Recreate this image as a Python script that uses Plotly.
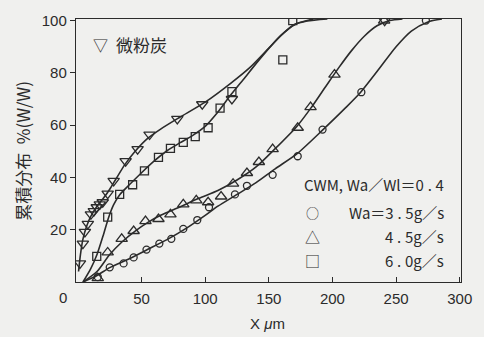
import plotly.graph_objects as go

# ---- data ----
# 微粉炭 (inverted triangles)
coal_x = [1.6, 3.9, 5.5, 7.8, 10.2, 12.5, 14.8, 17.2, 19.5, 23.4, 28.1, 37.5, 46.9, 56.3, 78.1, 97.7, 121, 241]
coal_y = [7.1, 14.7, 19.2, 22.2, 25.9, 27.1, 28.6, 29.7, 30.5, 33.8, 38.7, 46.2, 50.8, 56.4, 62.4, 68.0, 70.0, 100]
coal_curve_x = [0.5, 2, 4, 7, 10, 15, 20, 25, 30, 37, 45, 55, 65, 80, 100, 120, 135, 150, 160, 170, 180, 196]
coal_curve_y = [4, 10.5, 16.5, 21.5, 25, 29, 32, 35.5, 39.5, 45, 50, 55, 58.5, 63, 68.8, 76, 82, 89.5, 94.5, 98.3, 99.8, 100.6]

# Wa = 3.5 g/s (circles)
c35_x = [15.6, 25, 35.9, 43.8, 53.9, 64, 73.4, 82.8, 93.8, 103, 123.4, 132.8, 153, 172.7, 192.2, 222.7, 273.4]
c35_y = [1.9, 5.6, 7.1, 9.4, 12.4, 14.7, 16.5, 20.3, 23.7, 28.6, 33.5, 36.8, 41.0, 48.1, 58.3, 72.6, 100]
c35_curve_x = [4, 15, 25, 40, 55, 70, 85, 100, 110, 125, 140, 155, 172, 192, 210, 222, 235, 250, 262, 275, 286]
c35_curve_y = [0, 2.5, 5.5, 8.8, 12.5, 16.2, 20.5, 25.5, 29, 33.5, 38, 43.3, 49, 58, 66.5, 72.5, 80.5, 90, 96, 99.5, 100.6]

# Wa = 4.5 g/s (triangles)
c45_x = [15.6, 23.4, 34.4, 43.8, 53.1, 63.3, 72.7, 82.8, 93, 102.3, 112.5, 121.9, 132.8, 142.2, 153, 172.7, 182.8, 201.6, 240.6]
c45_y = [1.5, 11.3, 16.5, 19.5, 23.3, 24.1, 25.9, 29.7, 31.2, 30.5, 32.7, 37.6, 41.7, 45.9, 50.8, 59.0, 66.9, 79.3, 100]
c45_curve_x = [4, 15, 25, 35, 45, 55, 65, 80, 95, 110, 125, 140, 155, 172, 183, 195, 205, 215, 225, 235, 245, 255]
c45_curve_y = [0, 4, 10.5, 15.5, 19.5, 22.8, 25.5, 28.7, 32, 35, 39, 44, 51, 59.5, 66.5, 75, 82, 88.5, 94, 98, 100, 100.6]

# Wa = 6.0 g/s (squares)
c60_x = [14.8, 23.4, 32.8, 43, 52.3, 63.3, 72.7, 82.8, 92.2, 102.3, 111.7, 121, 161, 168.8]
c60_y = [9.8, 24.8, 33.5, 37.2, 42.5, 47.7, 51.1, 53.4, 55.6, 59.0, 66.5, 72.8, 85.0, 100]
c60_curve_x = [4, 10, 15, 20, 24, 28, 33, 40, 50, 60, 70, 80, 90, 100, 110, 120, 130, 145, 160, 170, 185]
c60_curve_y = [0, 5, 10.5, 18, 24.5, 29.5, 33.5, 37, 41.8, 46.3, 50.2, 53.2, 56, 59.5, 65, 71.5, 77.5, 86.5, 94.5, 98.5, 100.6]

x_ticks = [50, 100, 150, 200, 250, 300]
y_ticks = [20, 40, 60, 80, 100]

INK = "#2b2b2b"
NUM_FONT = "Liberation Sans, Arial, sans-serif"
JP_FONT = "Noto Sans CJK JP, sans-serif"

fig = go.Figure()

def curve(xs, ys):
    fig.add_trace(go.Scatter(x=xs, y=ys, mode="lines",
                             line=dict(color=INK, width=1.6, shape="spline", smoothing=0.7),
                             hoverinfo="skip", showlegend=False))

def pts(xs, ys, sym, size):
    fig.add_trace(go.Scatter(x=xs, y=ys, mode="markers",
                             marker=dict(symbol=sym, size=size, color=INK,
                                         line=dict(color=INK, width=1.3)),
                             showlegend=False))

curve(coal_curve_x, coal_curve_y)
curve(c35_curve_x, c35_curve_y)
curve(c45_curve_x, c45_curve_y)
curve(c60_curve_x, c60_curve_y)
pts(coal_x, coal_y, "triangle-down-open", 10)
pts(c35_x, c35_y, "circle-open", 7)
pts(c45_x, c45_y, "triangle-up-open", 10)
pts(c60_x, c60_y, "square-open", 8)

ann = []
def text(x, y, s, size=15, font=JP_FONT, xanchor="center", angle=0):
    ann.append(dict(xref="paper", yref="paper", x=x, y=y, text=s, showarrow=False,
                    xanchor=xanchor, yanchor="middle", textangle=angle,
                    font=dict(family=font, size=size, color=INK)))

W, H = 484, 337
L, R, T, B = 76, 462, 14, 282
def px(xp):
    return (xp - L) / (R - L)
def py(yp):
    return (B - yp) / (B - T)

sp = "\u2005"
text(px(101), py(40), "▽", size=15)
text(px(114), py(40), "微粉炭", size=17, xanchor="left")
text(px(447), py(183), f"CWM,{sp}Wa／Wl＝0{sp}.{sp}4", size=15, xanchor="right")
text(px(313), py(211), "○", size=13)
text(px(447), py(211), f"Wa＝3{sp}.{sp}5g／s", size=15, xanchor="right")
text(px(313), py(236), "△", size=15)
text(px(447), py(236), f"4{sp}.{sp}5g／s", size=15, xanchor="right")
text(px(313), py(260), "□", size=15)
text(px(447), py(260), f"6{sp}.{sp}0g／s", size=15, xanchor="right")
text(px(63), py(298), "0", size=15, font=NUM_FONT)
text(px(268), py(324), "X <i>μ</i>m", size=15, font=NUM_FONT)
text(px(22), py(148), "累積分布\u2002%(W/W)", size=17, angle=-90)

fig.update_layout(
    width=W, height=H,
    margin=dict(l=L, r=W - R, t=T, b=H - B, pad=0),
    paper_bgcolor="#f0f0ee", plot_bgcolor="#f0f0ee",
    annotations=ann,
    showlegend=False,
    xaxis=dict(range=[-1.5, 301], tickvals=x_ticks, ticks="inside", ticklen=5,
               tickcolor=INK, tickwidth=1.3, showgrid=False, zeroline=False,
               showline=True, linecolor=INK, linewidth=1.4, mirror=True,
               tickfont=dict(family=NUM_FONT, size=15, color=INK), ticklabelstandoff=3),
    yaxis=dict(range=[0, 100.6], tickvals=y_ticks, ticks="outside", ticklen=5,
               tickcolor=INK, tickwidth=1.3, showgrid=False, zeroline=False,
               showline=True, linecolor=INK, linewidth=1.4, mirror=True,
               tickfont=dict(family=NUM_FONT, size=15, color=INK)),
)

fig.write_html("out.html")
